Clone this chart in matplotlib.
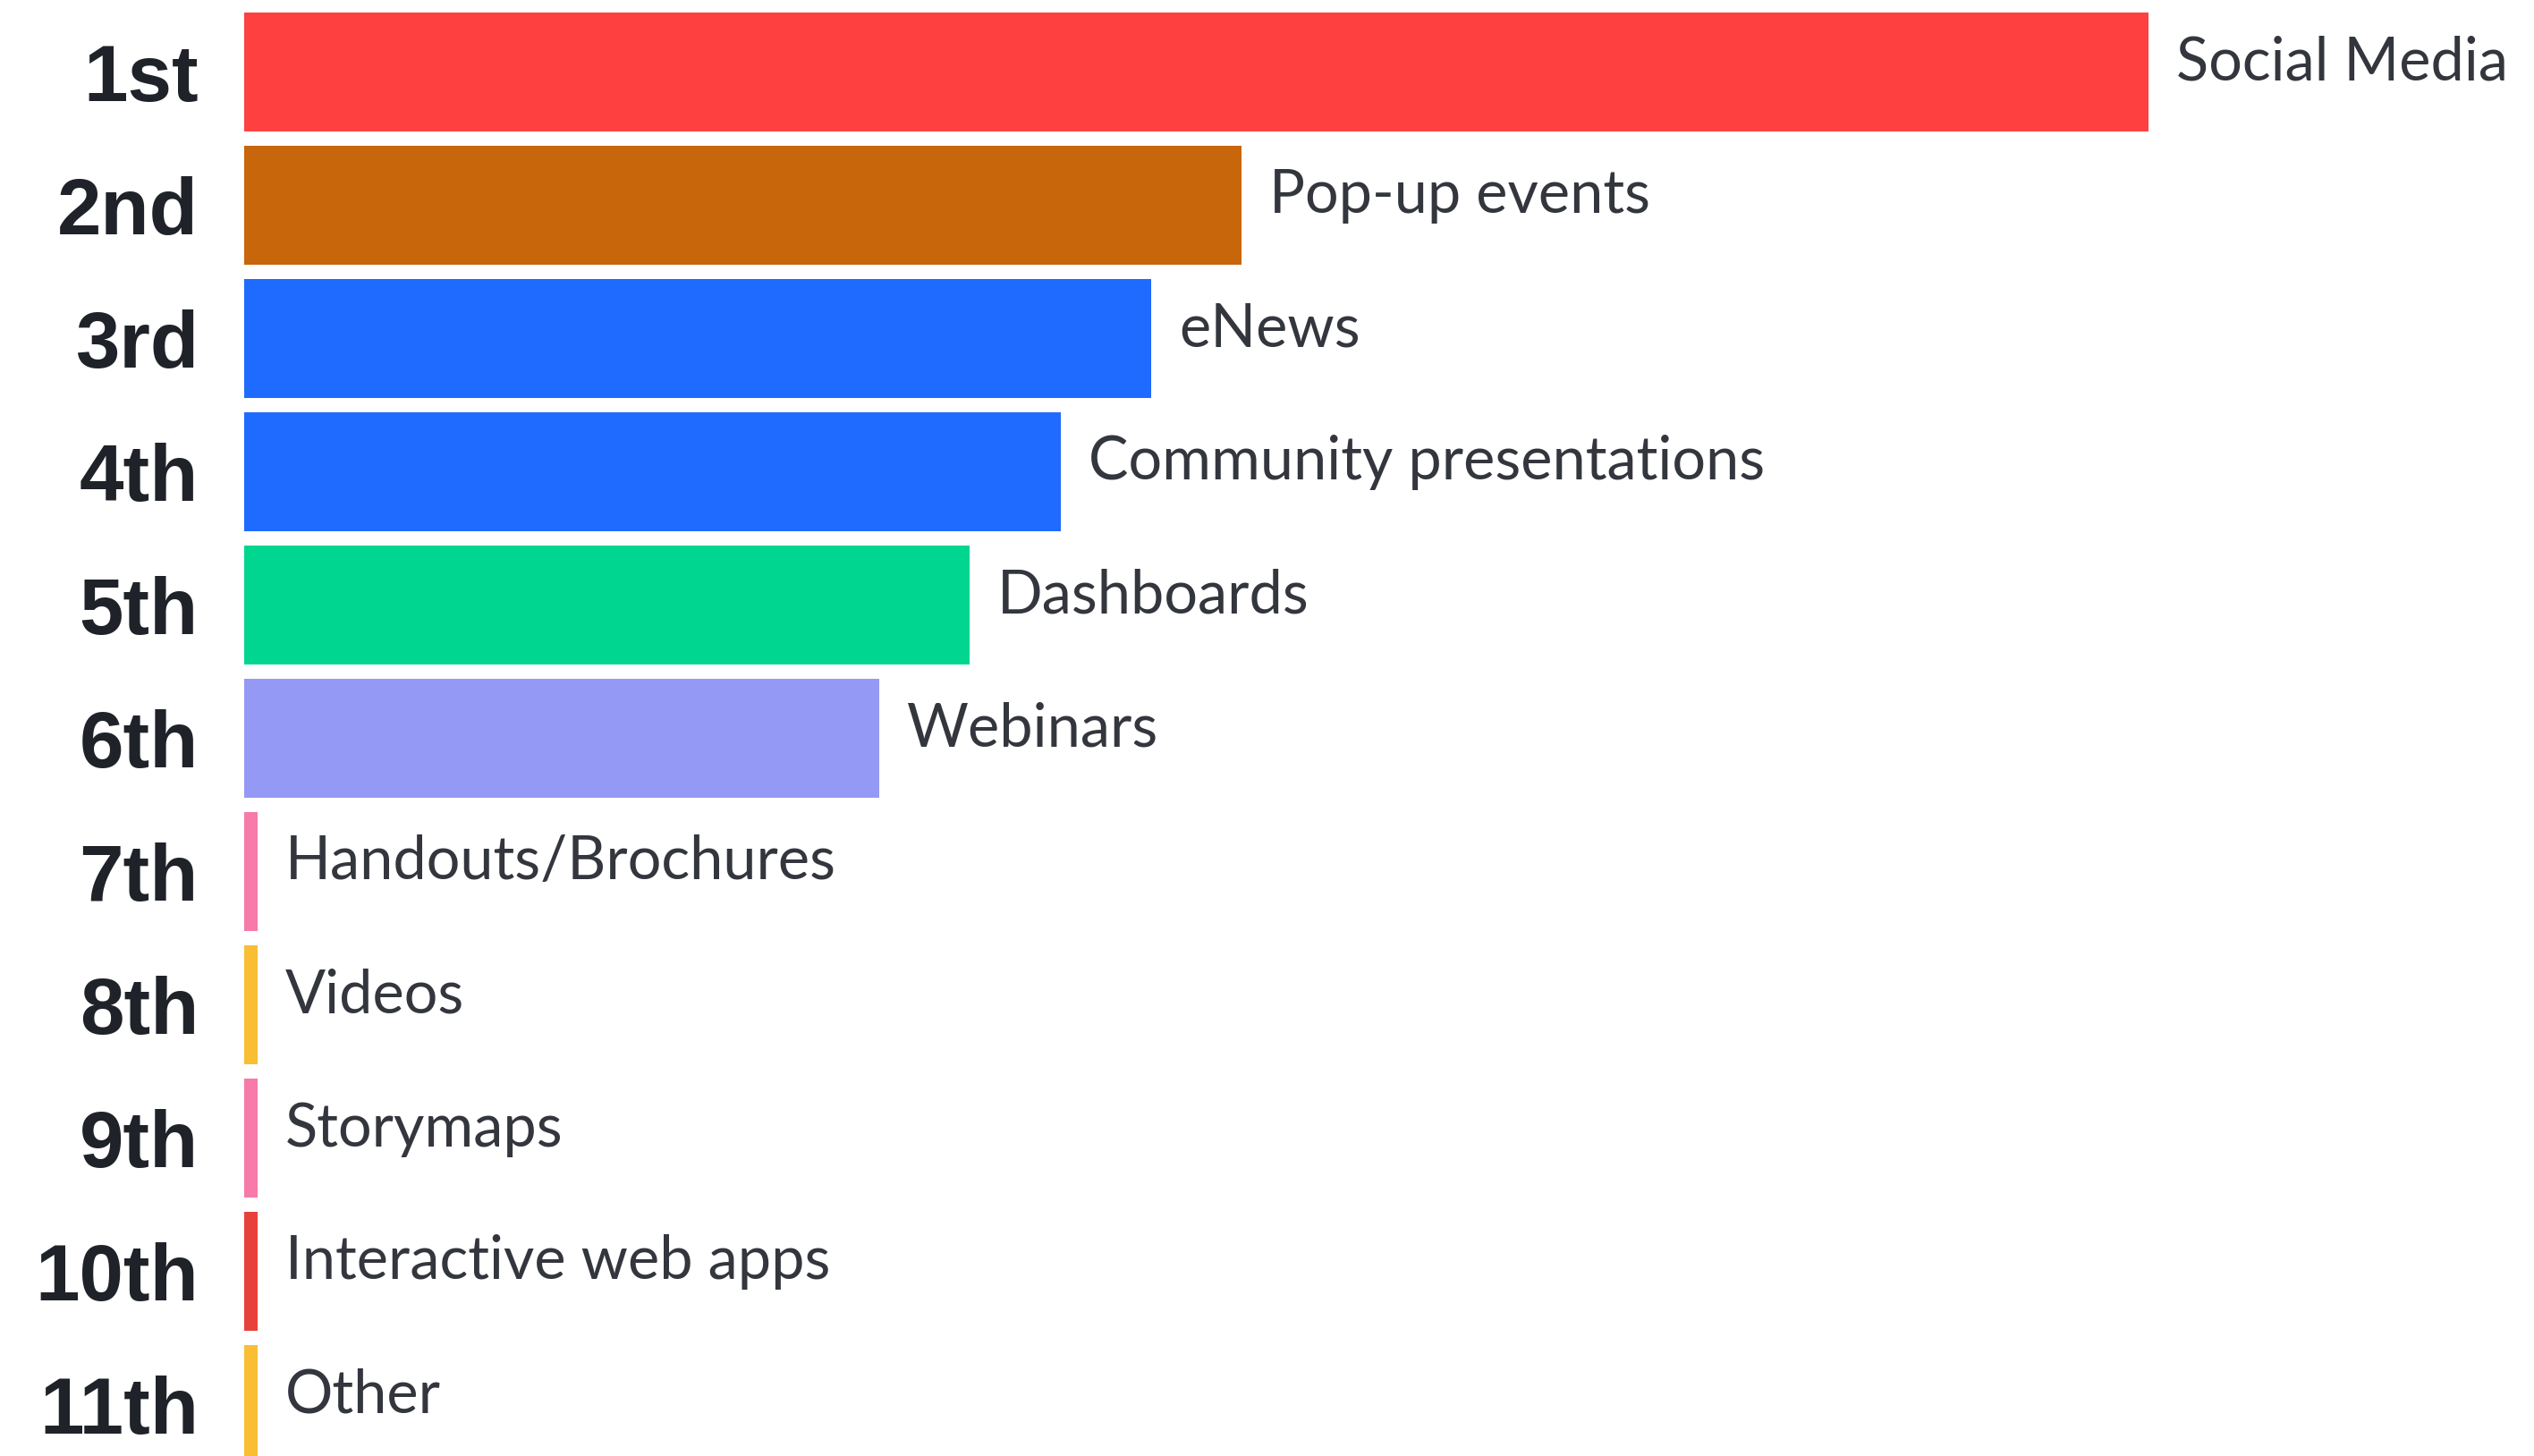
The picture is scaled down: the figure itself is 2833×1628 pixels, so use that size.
import matplotlib
matplotlib.use("Agg")
import matplotlib.pyplot as plt
import numpy as np

ranks = ["1st", "2nd", "3rd", "4th", "5th", "6th", "7th", "8th", "9th", "10th", "11th"]
channels = ["Social Media", "Pop-up events", "eNews", "Community presentations",
            "Dashboards", "Webinars", "Handouts/Brochures", "Videos", "Storymaps",
            "Interactive web apps", "Other"]
scores = [21, 11, 10, 9, 8, 7, 0, 0, 0, 0, 0]
colors = ["#FF4040", "#C8660C", "#1F6BFF", "#1F6BFF", "#00D68F", "#9499F5",
          "#F77AAA", "#F9BE34", "#F77AAA", "#E8403A", "#F9BE34"]

DPI = 200
W, H = 2833, 1628
fig = plt.figure(figsize=(W / DPI, H / DPI), dpi=DPI)
fig.patch.set_facecolor("white")

left_px = 273
ax = fig.add_axes([left_px / W, 0, 1 - left_px / W, 1])
px_per_unit = 101.4
ax.set_xlim(0, (W - left_px) / px_per_unit)
pitch = 149.0
first_center = 80.5
ax.set_ylim((H - first_center) / pitch, -first_center / pitch)
ax.axis("off")

y = np.arange(len(ranks))
min_w = 15 / px_per_unit
widths = np.maximum(np.array(scores, dtype=float), min_w)
ax.barh(y, widths, height=133 / pitch, color=colors, left=0, linewidth=0)

off = 31 / px_per_unit
for yi, w, name in zip(y, widths, channels):
    ax.text(w + off, yi + 9 / pitch, name, ha="left", va="baseline",
            fontsize=24, family="Lato", color="#33363d")

for yi, r in zip(y, ranks):
    fig.text((left_px - 51) / W, 1 - (first_center + yi * pitch) / H, r,
             ha="right", va="center_baseline", fontsize=32, fontweight="bold",
             family="Liberation Sans", color="#1f2329")

fig.savefig("out.png", dpi=DPI, facecolor="white")
